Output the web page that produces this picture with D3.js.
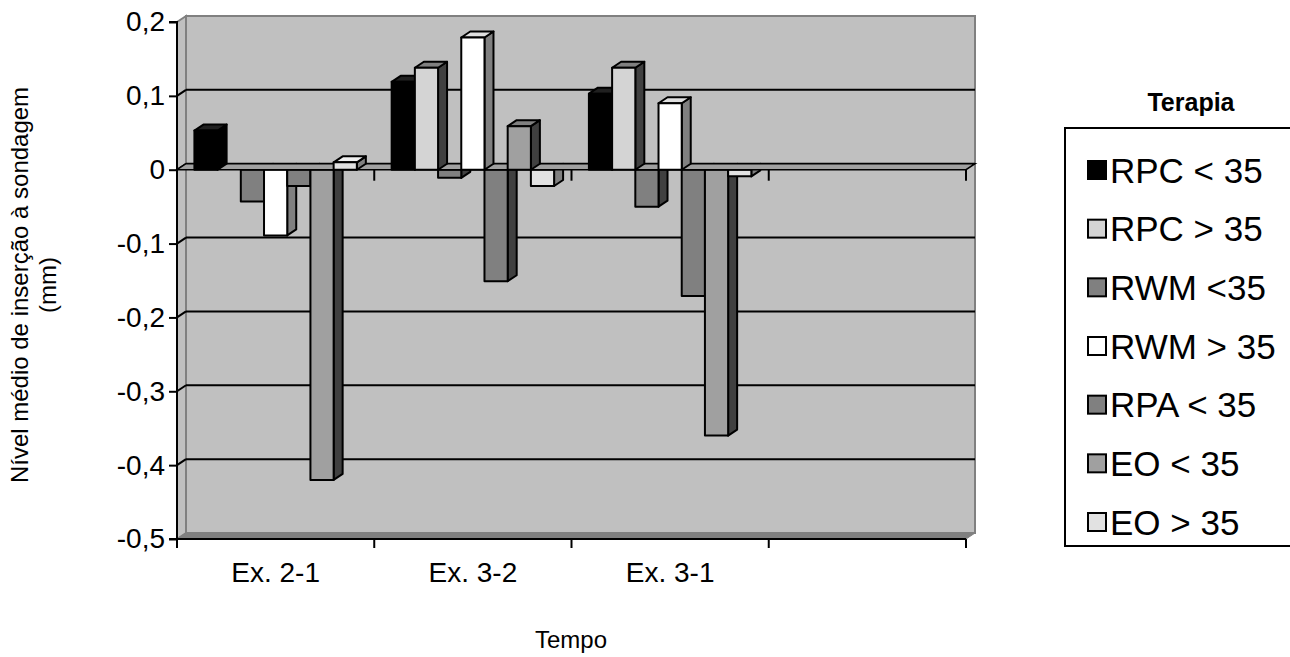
<!DOCTYPE html>
<html>
<head>
<meta charset="utf-8">
<script src="https://cdn.jsdelivr.net/npm/d3@7"></script>
<style>
  html, body { margin: 0; padding: 0; background: #fff; }
  svg { display: block; font-family: Arial, "Liberation Sans", sans-serif; }
</style>
</head>
<body>
<svg id="chart" width="1290" height="657"></svg>
<script>
// ---- data ----
const categories = ["Ex. 2-1", "Ex. 3-2", "Ex. 3-1", ""];
const seriesNames = ["RPC < 35", "RPC > 35", "RWM <35", "RWM > 35", "RPA < 35", "EO < 35", "EO > 35"];
const rpcLess35 = [0.053, 0.119, 0.103, null];
const rpcMore35 = [0, 0.138, 0.138, null];
const rwmLess35 = [-0.043, -0.011, -0.05, null];
const rwmMore35 = [-0.089, 0.179, 0.09, null];
const rpaLess35 = [-0.022, -0.151, -0.171, null];
const eoLess35 = [-0.42, 0.059, -0.36, null];
const eoMore35 = [0.01, -0.022, -0.009, null];
const seriesValues = [rpcLess35, rpcMore35, rwmLess35, rwmMore35, rpaLess35, eoLess35, eoMore35];
const yTicks = [0.2, 0.1, 0, -0.1, -0.2, -0.3, -0.4, -0.5];
const yTickLabels = ["0,2", "0,1", "0", "-0,1", "-0,2", "-0,3", "-0,4", "-0,5"];

// ---- styles ----
const seriesColors = ["#000000", "#d4d4d4", "#808080", "#ffffff", "#808080", "#a0a0a0", "#e2e2e2"];
const sideColors   = ["#000000", "#404040", "#404040", "#808080", "#404040", "#404040", "#808080"];
const topColors    = ["#202020", "#808080", "#606060", "#e0e0e0", "#606060", "#808080", "#f0f0f0"];

const svg = d3.select("#chart");
const X0 = 177, X1 = 966, YT = 22, YB = 539;
const DX = 9, DY = -6;

const y = d3.scaleLinear().domain([-0.5, 0.2]).range([YB, YT]);
const x = d3.scaleBand().domain(categories).range([X0, X1]).paddingInner(0).paddingOuter(0);
const bw = x.bandwidth() / (seriesNames.length + 1.5);
const xs = d3.scaleBand().domain(d3.range(seriesNames.length))
  .range([0.75 * bw, 0.75 * bw + bw * seriesNames.length]).padding(0);

const pts = arr => arr.map(p => p.join(",")).join(" ");
const g = svg.append("g");

// back wall
g.append("rect").attr("x", X0 + DX).attr("y", YT + DY).attr("width", X1 - X0)
  .attr("height", YB - YT).attr("fill", "#c0c0c0").attr("stroke", "#808080").attr("stroke-width", 2);
// left side wall
g.append("polygon")
  .attr("points", pts([[X0, YT], [X0 + DX, YT + DY], [X0 + DX, YB + DY], [X0, YB]]))
  .attr("fill", "#c0c0c0").attr("stroke", "#808080").attr("stroke-width", 2);
// floor
g.append("polygon")
  .attr("points", pts([[X0, YB], [X0 + DX, YB + DY], [X1 + DX, YB + DY], [X1, YB]]))
  .attr("fill", "#808080").attr("stroke", "#808080").attr("stroke-width", 1);

// gridlines (back wall + left wall diagonal)
yTicks.forEach(v => {
  if (v === 0.2 || v === -0.5) return;
  const yy = y(v);
  g.append("line").attr("x1", X0 + DX).attr("x2", X1 + DX).attr("y1", yy + DY).attr("y2", yy + DY)
    .attr("stroke", "#000").attr("stroke-width", 2);
  g.append("line").attr("x1", X0).attr("x2", X0 + DX).attr("y1", yy).attr("y2", yy + DY)
    .attr("stroke", "#000").attr("stroke-width", 2);
});

// bars
function barShape(sel, cat, si, v) {
  const xl = x(cat) + xs(si);
  const xr = xl + bw;
  const y0 = y(0), yv = y(v);
  const c = seriesColors[si];
  const grp = sel.append("g").attr("stroke", "#000").attr("stroke-width", 2).attr("stroke-linejoin", "round");
  grp.append("polygon").attr("points", pts([[xr, y0], [xr + DX, y0 + DY], [xr + DX, yv + DY], [xr, yv]]))
    .attr("fill", sideColors[si]);
  if (v >= 0) {
    grp.append("polygon").attr("points", pts([[xl, yv], [xl + DX, yv + DY], [xr + DX, yv + DY], [xr, yv]]))
      .attr("fill", topColors[si]);
    grp.append("rect").attr("x", xl).attr("y", yv).attr("width", bw).attr("height", y0 - yv).attr("fill", c);
  } else {
    grp.append("rect").attr("x", xl).attr("y", y0).attr("width", bw).attr("height", yv - y0).attr("fill", c);
  }
}

const negLayer = g.append("g");
const planeLayer = g.append("g");
const posLayer = g.append("g");

categories.forEach((cat, ci) => {
  seriesValues.forEach((vals, si) => {
    const v = vals[ci];
    if (v === null || v === 0) return;
    barShape(v < 0 ? negLayer : posLayer, cat, si, v);
  });
});

// zero plane
planeLayer.append("polygon")
  .attr("points", pts([[X0, y(0)], [X0 + DX, y(0) + DY], [X1 + DX, y(0) + DY], [X1, y(0)]]))
  .attr("fill", "#a0a0a0").attr("stroke", "#000").attr("stroke-width", 1.5);
// small ticks at zero level
categories.forEach(cat => {
  const xx = x(cat) + x.bandwidth();
  planeLayer.append("line").attr("x1", xx).attr("x2", xx).attr("y1", y(0)).attr("y2", y(0) + 11)
    .attr("stroke", "#000").attr("stroke-width", 2);
});

// y axis
const yAxis = d3.axisLeft(y).tickValues(yTicks).tickSize(8).tickPadding(4)
  .tickFormat((d, i) => yTickLabels[i]);
const ya = svg.append("g").attr("transform", `translate(${X0},0)`).call(yAxis);
ya.select(".domain").attr("stroke", "#000").attr("stroke-width", 2).attr("d", `M-8,${YT}H0V${YB}H-8`);
ya.selectAll(".tick line").attr("stroke", "#000").attr("stroke-width", 2);
ya.selectAll(".tick text").attr("font-size", 28).attr("fill", "#000")
  .attr("font-family", "Arial, 'Liberation Sans', sans-serif");

// x axis (bottom)
const xEdges = d3.scaleLinear().domain([0, categories.length]).range([X0, X1]);
const xa = svg.append("g");
xa.append("line").attr("x1", X0).attr("x2", X1).attr("y1", YB).attr("y2", YB).attr("stroke", "#000").attr("stroke-width", 2);
d3.range(categories.length + 1).forEach(i => {
  xa.append("line").attr("x1", xEdges(i)).attr("x2", xEdges(i)).attr("y1", YB).attr("y2", YB + 9)
    .attr("stroke", "#000").attr("stroke-width", 2);
});
categories.forEach(cat => {
  xa.append("text").attr("x", x(cat) + x.bandwidth() / 2).attr("y", 582)
    .attr("text-anchor", "middle").attr("font-size", 28).text(cat);
});

// axis titles
svg.append("text").attr("x", 571).attr("y", 648).attr("text-anchor", "middle").attr("font-size", 24).text("Tempo");
const yt = svg.append("text").attr("transform", "translate(28,285) rotate(-90)")
  .attr("text-anchor", "middle").attr("font-size", 24);
yt.append("tspan").attr("x", 0).attr("y", 0).text("Nível médio de inserção à sondagem");
yt.append("tspan").attr("x", 0).attr("y", 28).text("(mm)");

// legend
svg.append("text").attr("x", 1191).attr("y", 111).attr("text-anchor", "middle")
  .attr("font-size", 25).attr("font-weight", "bold").text("Terapia");
const lg = svg.append("g");
lg.append("rect").attr("x", 1065).attr("y", 128).attr("width", 240).attr("height", 418)
  .attr("fill", "#fff").attr("stroke", "#000").attr("stroke-width", 2);
const ly = d3.scalePoint().domain(seriesNames).range([170, 522]);
seriesNames.forEach((name, i) => {
  const cy = ly(name);
  lg.append("rect").attr("x", 1088).attr("y", cy - 9).attr("width", 18).attr("height", 18)
    .attr("fill", seriesColors[i]).attr("stroke", "#000").attr("stroke-width", 2);
  lg.append("text").attr("x", 1110).attr("y", cy).attr("dy", "0.36em").attr("font-size", 35).text(name);
});
</script>
</body>
</html>
